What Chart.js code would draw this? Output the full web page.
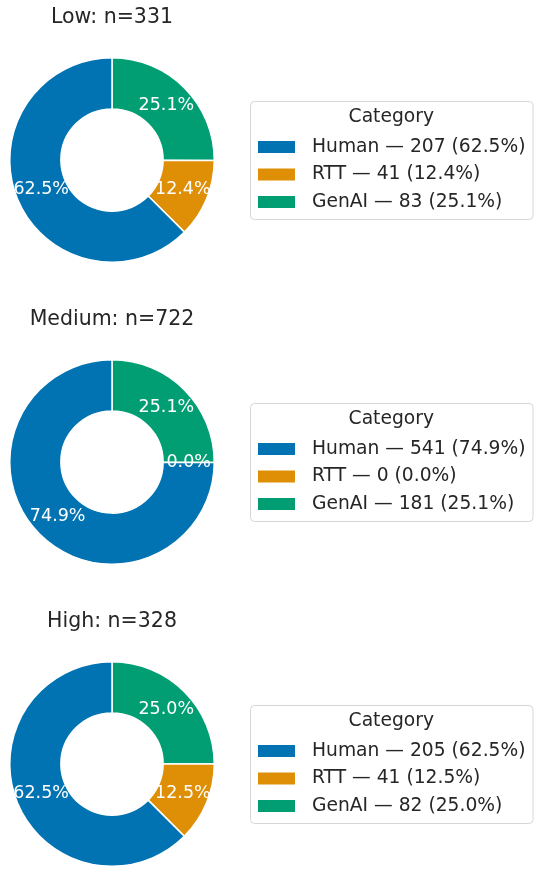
<!DOCTYPE html>
<html>
<head>
<meta charset="utf-8">
<script src="https://cdn.jsdelivr.net/npm/chart.js@4/dist/chart.umd.min.js"></script>
<style>
  html, body { margin: 0; padding: 0; background: #fff; overflow: hidden; }
  body { width: 534px; height: 877px; position: relative; }
  .panel { position: absolute; left: 0; width: 534px; height: 302px; }
</style>
</head>
<body>
<div class="panel" style="top:0"><canvas id="c0" width="534" height="302"></canvas></div>
<div class="panel" style="top:302px"><canvas id="c1" width="534" height="302"></canvas></div>
<div class="panel" style="top:604px"><canvas id="c2" width="534" height="302"></canvas></div>
<script>
/* DATA */
const groups = ["Low", "Medium", "High"];
const categories = ["Human", "RTT", "GenAI"];
const humanCounts = [207, 541, 205];
const rttCounts = [41, 0, 41];
const genaiCounts = [83, 181, 82];
const colors = ["#0173b2", "#de8f05", "#029e73"];

const FONT = "'DejaVu Sans', Verdana, sans-serif";
const TEXT = "#262626";

/* percentage labels on the ring */
const pctLabels = {
  id: "pctLabels",
  afterDatasetsDraw(chart) {
    const ctx = chart.ctx;
    const ds = chart.data.datasets[0];
    const total = ds.data.reduce((a, b) => a + b, 0);
    ctx.save();
    ctx.font = "17.5px " + FONT;
    ctx.fillStyle = "#ffffff";
    ctx.textAlign = "center";
    ctx.textBaseline = "middle";
    chart.getDatasetMeta(0).data.forEach((arc, i) => {
      const p = arc.getCenterPoint();
      const pct = (ds.data[i] / total * 100).toFixed(1) + "%";
      ctx.fillText(pct, p.x, p.y);
    });
    ctx.restore();
  }
};

/* boxed legend on the right, in original category order */
const boxLegend = {
  id: "boxLegend",
  afterDraw(chart, args, opts) {
    const ctx = chart.ctx;
    const cy = (chart.chartArea.top + chart.chartArea.bottom) / 2;
    const left = 250, top = cy - 59, h = 118;
    ctx.save();
    ctx.font = "18.7px " + FONT;
    let maxW = 0;
    opts.items.forEach(t => { maxW = Math.max(maxW, ctx.measureText(t).width); });
    const w = 62 + maxW + 7;

    ctx.beginPath();
    ctx.roundRect(left + 0.5, top + 0.5, w, h, 4);
    ctx.fillStyle = "rgba(255,255,255,0.8)";
    ctx.fill();
    ctx.strokeStyle = "#d6d6d6";
    ctx.lineWidth = 1;
    ctx.stroke();

    ctx.fillStyle = TEXT;
    ctx.textBaseline = "middle";
    ctx.textAlign = "center";
    ctx.fillText("Category", left + w / 2, top + 16);

    ctx.textAlign = "left";
    const rows = [46, 73.5, 101];
    opts.items.forEach((t, i) => {
      const y = top + rows[i];
      ctx.fillStyle = opts.colors[i];
      ctx.fillRect(left + 8, y - 6, 37, 12);
      ctx.fillStyle = TEXT;
      ctx.fillText(t, left + 62, y);
    });
    ctx.restore();
  }
};

function makeChart(idx) {
  const counts = [humanCounts[idx], rttCounts[idx], genaiCounts[idx]];
  const total = counts.reduce((a, b) => a + b, 0);
  const items = categories.map((c, i) =>
    `${c} — ${counts[i]} (${(counts[i] / total * 100).toFixed(1)}%)`);

  // matplotlib goes counter-clockwise from the top, Chart.js goes clockwise,
  // so feed the slices in reverse
  const order = [2, 1, 0];

  new Chart(document.getElementById("c" + idx), {
    type: "doughnut",
    data: {
      labels: order.map(i => categories[i]),
      datasets: [{
        data: order.map(i => counts[i]),
        backgroundColor: order.map(i => colors[i]),
        borderColor: "#ffffff",
        borderWidth: 1.5
      }]
    },
    options: {
      responsive: false,
      animation: false,
      cutout: "50%",
      layout: { padding: { left: 9, right: 319, top: 0, bottom: 39 } },
      plugins: {
        legend: { display: false },
        tooltip: { enabled: false },
        title: {
          display: true,
          text: `${groups[idx]}: n=${total}`,
          color: TEXT,
          font: { family: FONT, size: 20.5, weight: "normal", lineHeight: 1.2 },
          padding: { top: 5, bottom: 27.4 }
        },
        boxLegend: { items, colors }
      }
    },
    plugins: [pctLabels, boxLegend]
  });
}

groups.forEach((g, i) => makeChart(i));
</script>
</body>
</html>
